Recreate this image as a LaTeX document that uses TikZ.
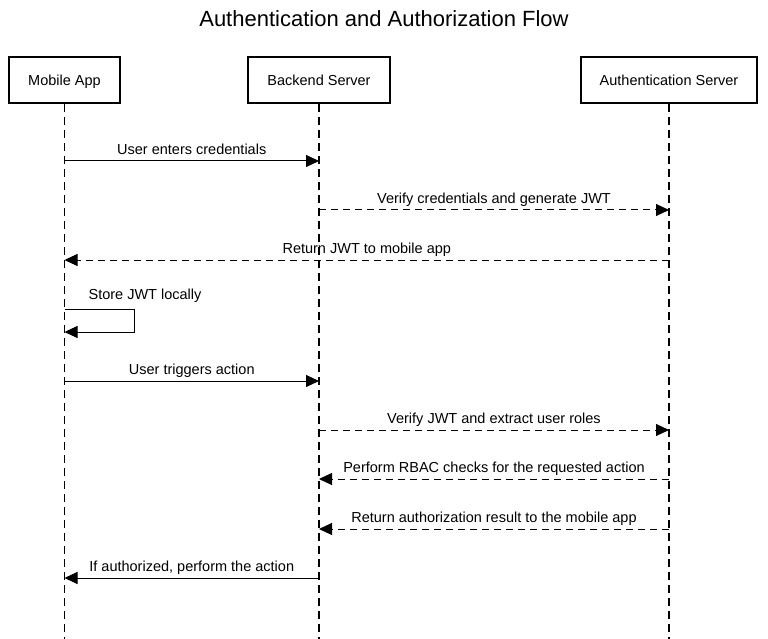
\documentclass[tikz,border=0pt]{standalone}
\usepackage{fontspec}
\setmainfont{Liberation Sans}
\usetikzlibrary{arrows.meta}
\begin{document}
\begin{tikzpicture}[x=1pt,y=-1pt,
  actor/.style={draw, line width=2pt, minimum height=46pt, inner sep=0pt, text height=10.5pt, text depth=0pt, font=\fontsize{14.5}{17}\selectfont},
  life/.style={line width=1.2pt, dash pattern=on 8pt off 5pt},
  msg/.style={line width=1pt, -{Triangle[length=13pt,width=12pt]}},
  reply/.style={msg, dash pattern=on 7pt off 5pt},
  lbl/.style={font=\fontsize{14.5}{17}\selectfont, text height=10.5pt, text depth=3pt, inner sep=0pt, anchor=south, yshift=3pt}
]
\useasboundingbox (0,0) rectangle (768,639);
\node[font=\fontsize{22}{26}\selectfont] (title) at (384,19) {Authentication and Authorization Flow};
\node[actor, minimum width=111pt] (mob) at (64.5,80) {Mobile App};
\node[actor, minimum width=142pt] (back) at (319,80) {Backend Server};
\node[actor, minimum width=176pt] (auth) at (669,80) {Authentication Server};
\coordinate (mobend) at (mob.south |- 0,639);
\coordinate (backend) at (back.south |- 0,639);
\coordinate (authend) at (auth.south |- 0,639);
\draw[life] (mob.south) -- (mobend);
\draw[life] (back.south) -- (backend);
\draw[life] (auth.south) -- (authend);
% messages
\draw[msg] (mob.south |- 0,161) -- node[lbl]{User enters credentials} (back.south |- 0,161);
\draw[reply] (back.south |- 0,210) -- node[lbl]{Verify credentials and generate JWT} (auth.south |- 0,210);
\draw[reply] (auth.south |- 0,260) -- node[lbl]{Return JWT to mobile app} (mob.south |- 0,260);
\coordinate (loopa) at (134,309);
\coordinate (loopb) at (134,332);
\draw[msg] (mob.south |- 0,309) -- (loopa) -- (loopb) -- (mob.south |- 0,332);
\node[lbl, anchor=south] (looplbl) at (145,306) {Store JWT locally};
\draw[msg] (mob.south |- 0,381) -- node[lbl]{User triggers action} (back.south |- 0,381);
\draw[reply] (back.south |- 0,430) -- node[lbl]{Verify JWT and extract user roles} (auth.south |- 0,430);
\draw[reply] (auth.south |- 0,479) -- node[lbl]{Perform RBAC checks for the requested action} (back.south |- 0,479);
\draw[reply] (auth.south |- 0,529) -- node[lbl]{Return authorization result to the mobile app} (back.south |- 0,529);
\draw[msg] (back.south |- 0,578) -- node[lbl]{If authorized, perform the action} (mob.south |- 0,578);
\end{tikzpicture}
\end{document}
